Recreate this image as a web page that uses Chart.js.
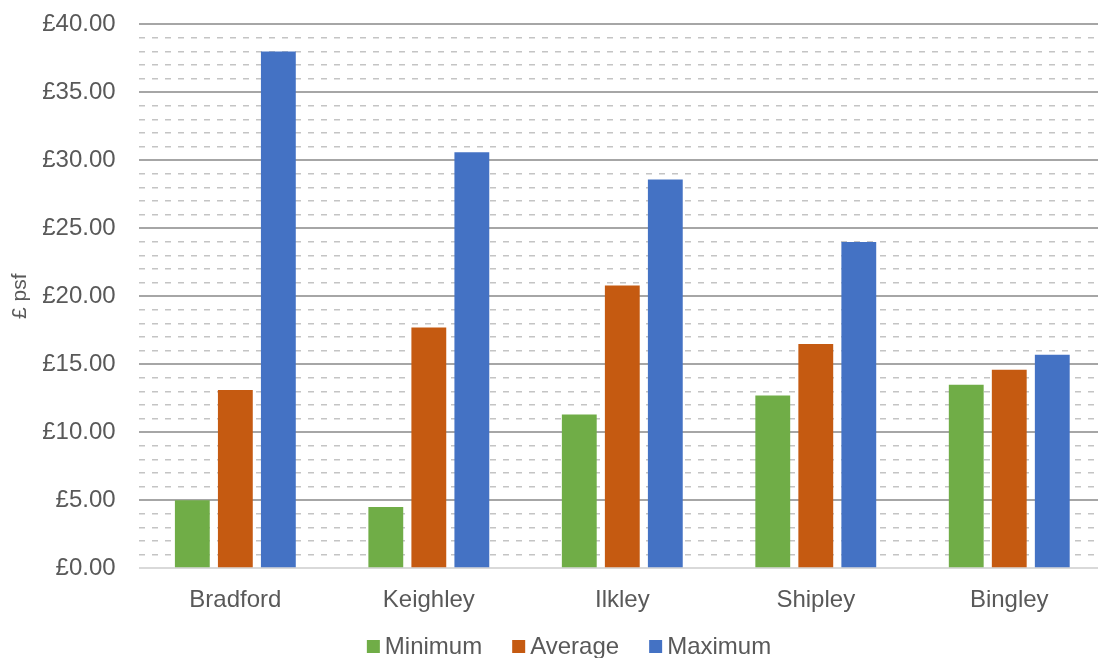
<!DOCTYPE html>
<html>
<head>
<meta charset="utf-8">
<script src="https://cdn.jsdelivr.net/npm/chart.js@4"></script>
<style>
  html, body { margin: 0; padding: 0; background: #fff; overflow: hidden; }
  #wrap { position: relative; top: -13px; width: 1106px; height: 690px; }
</style>
</head>
<body>
<div id="wrap"><canvas id="myChart"></canvas></div>
<script>
var towns = ["Bradford", "Keighley", "Ilkley", "Shipley", "Bingley"];
var minimum = [5.0, 4.5, 11.3, 12.7, 13.5];
var average = [13.1, 17.7, 20.8, 16.5, 14.6];
var maximum = [38.0, 30.6, 28.6, 24.0, 15.7];

var textColor = "#595959";
var fontFamily = "'Liberation Sans', Arial, sans-serif";

// legend drawn by hand so the box/text spacing matches the original
var bottomLegend = {
  id: "bottomLegend",
  afterDraw: function (chart) {
    var ctx = chart.ctx;
    var sets = chart.data.datasets;
    ctx.save();
    ctx.font = "24px " + fontFamily;
    ctx.textBaseline = "middle";
    var total = 0;
    sets.forEach(function (ds) {
      total += 13 + 5 + ctx.measureText(ds.label).width;
    });
    total += 30 * (sets.length - 1);
    var x = chart.width / 2 + 16 - total / 2;
    var y = chart.height - 30;
    sets.forEach(function (ds) {
      ctx.fillStyle = ds.backgroundColor;
      ctx.fillRect(x, y - 7, 13, 13);
      ctx.fillStyle = textColor;
      ctx.fillText(ds.label, x + 18, y);
      x += 13 + 5 + ctx.measureText(ds.label).width + 30;
    });
    ctx.restore();
  },
};

new Chart("myChart", {
  type: "bar",
  data: {
    labels: towns,
    datasets: [
      { label: "Minimum", data: minimum, backgroundColor: "#70AD47" },
      { label: "Average", data: average, backgroundColor: "#C55A11" },
      { label: "Maximum", data: maximum, backgroundColor: "#4472C4" },
    ],
  },
  plugins: [bottomLegend],
  options: {
    responsive: true,
    maintainAspectRatio: false,
    animation: false,
    datasets: {
      bar: { categoryPercentage: 0.667, barPercentage: 0.81 },
    },
    layout: { padding: { top: 0, left: 8, right: 0, bottom: 52 } },
    plugins: {
      tooltip: { enabled: false },
      legend: { display: false },
    },
    scales: {
      x: {
        grid: { display: false },
        border: { display: false },
        ticks: {
          color: textColor,
          font: { family: fontFamily, size: 24 },
          padding: 10,
        },
      },
      y: {
        min: 0,
        max: 40,
        title: {
          display: true,
          text: "£ psf",
          color: textColor,
          font: { family: fontFamily, size: 21 },
          padding: { top: 0, bottom: -14 },
        },
        border: {
          display: false,
          dash: function (ctx) {
            var v = ctx.tick ? ctx.tick.value : 0;
            return v % 5 === 0 ? [] : [6, 7];
          },
        },
        grid: {
          drawTicks: false,
          color: function (ctx) {
            var v = ctx.tick ? ctx.tick.value : 0;
            if (v === 0) return "#d9d9d9";
            return v % 5 === 0 ? "#a6a6a6" : "#c4c4c4";
          },
          lineWidth: function (ctx) {
            var v = ctx.tick ? ctx.tick.value : 0;
            return v % 5 === 0 ? 2 : 1.5;
          },
        },
        ticks: {
          stepSize: 1,
          autoSkip: false,
          color: textColor,
          font: { family: fontFamily, size: 24 },
          padding: 23,
          callback: function (value) {
            return value % 5 === 0 ? "£" + value.toFixed(2) : "";
          },
        },
      },
    },
  },
});
</script>
</body>
</html>
